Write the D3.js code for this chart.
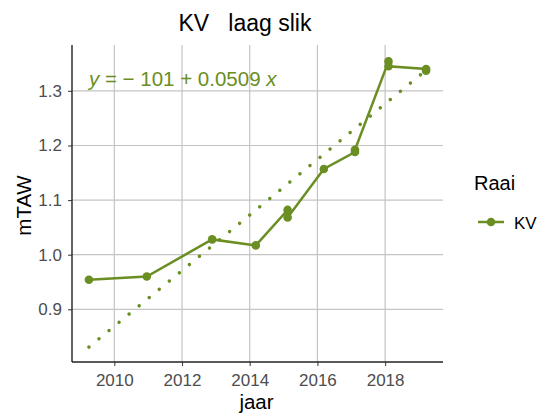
<!DOCTYPE html>
<html>
<head>
<meta charset="utf-8">
<script src="https://cdn.jsdelivr.net/npm/d3@7"></script>
<style>
  body { margin: 0; background: #fff; }
  svg { display: block; font-family: "Liberation Sans", Arial, sans-serif; }
  text { white-space: pre; }
</style>
</head>
<body>
<svg id="chart" width="550" height="416"></svg>
<script>
// Measurements at raai KV (laag slik): year and elevation in mTAW
const years  = [2009.25, 2010.96, 2012.89, 2014.18, 2015.12, 2015.12, 2016.19, 2017.11, 2017.11, 2018.10, 2018.10, 2019.21, 2019.21];
const values = [0.954,   0.960,   1.028,   1.017,   1.082,   1.068,   1.157,   1.188,   1.192,   1.354,   1.345,   1.340,   1.337];

// Linear trend y = intercept + slope * x
const trendIntercept = -101.44;
const trendSlope = 0.0509;

const xTicks = [2010, 2012, 2014, 2016, 2018];
const yTicks = [0.9, 1.0, 1.1, 1.2, 1.3];

const title = "KV   laag slik";
const xTitle = "jaar";
const yTitle = "mTAW";
const legendTitle = "Raai";
const seriesName = "KV";

const green = "#6b8e23";

const svg = d3.select("#chart");
const pLeft = 72, pRight = 443, pTop = 45, pBottom = 362;

const x = d3.scaleLinear().domain([2008.75, 2019.71]).range([pLeft, pRight]);
const y = d3.scaleLinear().domain([0.8035, 1.384]).range([pBottom, pTop]);

// grid
const grid = svg.append("g");
grid.selectAll(".gx").data(xTicks).join("line")
  .attr("x1", d => x(d)).attr("x2", d => x(d))
  .attr("y1", pTop).attr("y2", pBottom)
  .attr("stroke", "#c4c4c4").attr("stroke-width", 1.2);
grid.selectAll(".gy").data(yTicks).join("line")
  .attr("x1", pLeft).attr("x2", pRight)
  .attr("y1", d => y(d)).attr("y2", d => y(d))
  .attr("stroke", "#c4c4c4").attr("stroke-width", 1.2);

// axes
const xAxis = d3.axisBottom(x).tickValues(xTicks).tickFormat(d3.format("d")).tickSize(4).tickPadding(8);
const yAxis = d3.axisLeft(y).tickValues(yTicks).tickFormat(d3.format(".1f")).tickSize(4).tickPadding(6);

const gx = svg.append("g").attr("transform", `translate(0,${pBottom})`).call(xAxis);
const gy = svg.append("g").attr("transform", `translate(${pLeft},0)`).call(yAxis);
[gx, gy].forEach(g => {
  g.select(".domain").remove();
  g.selectAll(".tick line").attr("stroke", "#444").attr("stroke-width", 1.1);
  g.selectAll(".tick text").attr("fill", "#4d4d4d").style("font-size", "17px")
    .style("font-family", "'Liberation Sans', Arial, sans-serif");
});

svg.append("line").attr("x1", pLeft).attr("x2", pLeft).attr("y1", pTop).attr("y2", pBottom)
  .attr("stroke", "#222").attr("stroke-width", 1.4);
svg.append("line").attr("x1", pLeft).attr("x2", pRight).attr("y1", pBottom).attr("y2", pBottom)
  .attr("stroke", "#222").attr("stroke-width", 1.4);

// trend line (dotted)
const xExt = d3.extent(years);
svg.append("line")
  .attr("x1", x(xExt[0])).attr("y1", y(trendIntercept + trendSlope * xExt[0]))
  .attr("x2", x(xExt[1])).attr("y2", y(trendIntercept + trendSlope * xExt[1]))
  .attr("stroke", green).attr("stroke-width", 3.6)
  .attr("stroke-linecap", "round").attr("stroke-dasharray", "0,13");

// measured series
const pts = years.map((d, i) => [d, values[i]]);
svg.append("path").datum(pts)
  .attr("fill", "none").attr("stroke", green).attr("stroke-width", 2.5)
  .attr("d", d3.line().x(d => x(d[0])).y(d => y(d[1])));
svg.selectAll(".pt").data(pts).join("circle")
  .attr("cx", d => x(d[0])).attr("cy", d => y(d[1])).attr("r", 4.3)
  .attr("fill", green);

// equation label
const eq = svg.append("text").attr("x", 89).attr("y", 86)
  .attr("fill", green).style("font-size", "20.5px");
eq.append("tspan").style("font-style", "italic").text("y");
eq.append("tspan").text(" = \u2212 101 + " + trendSlope.toFixed(4) + " ");
eq.append("tspan").style("font-style", "italic").text("x");

// titles
svg.append("text").attr("x", 245).attr("y", 31).attr("text-anchor", "middle")
  .style("font-size", "23px").attr("fill", "#000").text(title);
svg.append("text").attr("x", x(2014.2)).attr("y", 409).attr("text-anchor", "middle")
  .style("font-size", "20.5px").attr("fill", "#000").text(xTitle);
svg.append("text").attr("transform", `translate(31,${(pTop + pBottom) / 2 + 2}) rotate(-90)`)
  .attr("text-anchor", "middle").style("font-size", "20.5px").attr("fill", "#000").text(yTitle);

// legend
svg.append("text").attr("x", 474).attr("y", 190).style("font-size", "20px").attr("fill", "#000").text(legendTitle);
svg.append("line").attr("x1", 478).attr("x2", 504).attr("y1", 222).attr("y2", 222)
  .attr("stroke", green).attr("stroke-width", 2.5);
svg.append("circle").attr("cx", 491).attr("cy", 222).attr("r", 4.3).attr("fill", green);
svg.append("text").attr("x", 514).attr("y", 229).style("font-size", "17px").attr("fill", "#000").text(seriesName);
</script>
</body>
</html>
